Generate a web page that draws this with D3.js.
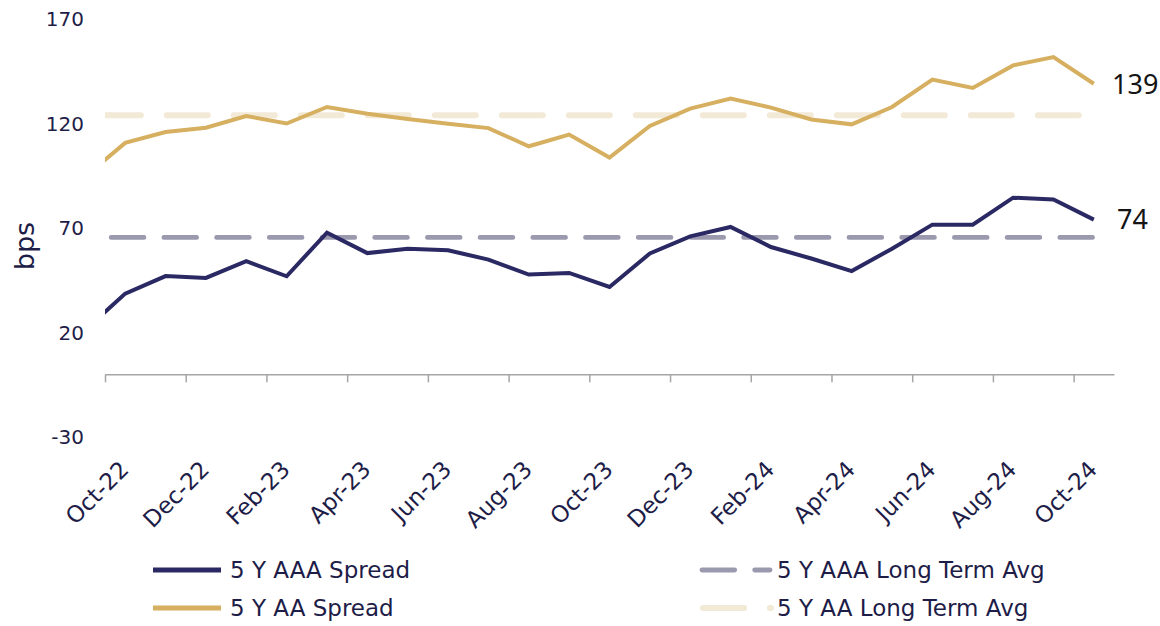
<!DOCTYPE html>
<html>
<head>
<meta charset="utf-8">
<script src="https://cdn.jsdelivr.net/npm/d3@7"></script>
<style>
  body { margin: 0; background: #fff; }
  svg { display: block; font-family: "DejaVu Sans", "Noto Sans", sans-serif; }
</style>
</head>
<body>
<div id="mainChart"></div>
<script>
// Monthly points, Sep-22 .. Oct-24 (Sep-22 sits just left of the plot and gets clipped)
const months = ["Sep-22", "Oct-22", "Nov-22", "Dec-22", "Jan-23", "Feb-23", "Mar-23", "Apr-23", "May-23",
   "Jun-23", "Jul-23", "Aug-23", "Sep-23", "Oct-23", "Nov-23", "Dec-23", "Jan-24", "Feb-24", "Mar-24",
   "Apr-24", "May-24", "Jun-24", "Jul-24", "Aug-24", "Sep-24", "Oct-24"]

const aaaSpread = [21, 38.6, 47, 46.1, 54.1, 46.9, 67.8, 58, 60.1, 59.3, 54.9, 47.7, 48.5, 41.8, 57.8,
   66, 70.5, 60.9, 55.4, 49.4, 60.1, 71.6, 71.6, 84.5, 83.6, 74]
const aaSpread = [94.5, 110.7, 115.9, 118, 123.6, 120, 127.9, 124.7, 122.2, 119.9, 117.8, 109.1, 114.7,
   103.7, 118.8, 127.1, 131.9, 127.6, 121.9, 119.6, 127.9, 141, 137, 147.8, 151.8, 139]

const aaaLongTermAvg = 65.5
const aaLongTermAvg = 124

const xTickLabels = ["Oct-22", "Dec-22", "Feb-23", "Apr-23", "Jun-23", "Aug-23", "Oct-23", "Dec-23",
   "Feb-24", "Apr-24", "Jun-24", "Aug-24", "Oct-24"]
const yTicks = [-30, 20, 70, 120, 170]

const textColor = "#1e1d48"

const charts = [
   { id: "aaaAvg", name: "5 Y AAA Long Term Avg", color: "#9b99ae", width: 4.8, dash: [32.7, 20], offset: 26.3,
     data: months.map(() => aaaLongTermAvg) },
   { id: "aaAvg", name: "5 Y AA Long Term Avg", color: "#f2e9d7", width: 6, dash: [41, 26], offset: 52,
     data: months.map(() => aaLongTermAvg) },
   { id: "aaa", name: "5 Y AAA Spread", color: "#2b2963", width: 4, data: aaaSpread },
   { id: "aa", name: "5 Y AA Spread", color: "#d6b060", width: 4, data: aaSpread }
]

const W = 1160, H = 626
const plot = { left: 105, right: 1114, top: 19, bottom: 437 }

// month index: 0 = start of Oct-22, 25 = start of Nov-24; points sit mid-month
let x = d3.scaleLinear().domain([0, 25]).range([plot.left, plot.right])
let y = d3.scaleLinear().domain([-30, 170]).range([plot.bottom, plot.top])
const px = i => x(i - 0.5)

let svg = d3.select("#mainChart").append("svg")
   .attr("width", W)
   .attr("height", H)

svg.append("defs").append("clipPath").attr("id", "plotClip")
   .append("rect")
   .attr("x", plot.left).attr("y", 0)
   .attr("width", plot.right - plot.left + 20).attr("height", H)

// y tick labels
svg.append("g").selectAll("text").data(yTicks)
   .join("text")
   .attr("x", 84)
   .attr("y", d => y(d))
   .attr("dy", "0.36em")
   .attr("text-anchor", "end")
   .attr("fill", textColor)
   .style("font-size", "20px")
   .text(d => d)

svg.append("text")
   .attr("transform", "translate(34,246) rotate(-90)")
   .attr("text-anchor", "middle")
   .attr("fill", textColor)
   .style("font-size", "27px")
   .text("bps")

// x axis at zero
let xAxis = d3.axisBottom(x)
   .tickValues(d3.range(0, 25, 2))
   .tickSize(8)
   .tickSizeOuter(0)
   .tickFormat("")

let axisG = svg.append("g")
   .attr("transform", "translate(0," + y(0) + ")")
   .call(xAxis)
axisG.select(".domain").attr("stroke", "#a6a6a6").attr("stroke-width", 1.5)
axisG.selectAll(".tick line").attr("stroke", "#a6a6a6").attr("stroke-width", 1.5)

svg.append("g").selectAll("text").data(xTickLabels)
   .join("text")
   .attr("transform", (d, i) => "translate(" + (x(i * 2) + 25) + ",471) rotate(-45)")
   .attr("text-anchor", "end")
   .attr("fill", textColor)
   .style("font-size", "23px")
   .text(d => d)

// lines
let line = d3.line()
   .x((d, i) => px(i))
   .y(d => y(d))

let g = svg.append("g").attr("clip-path", "url(#plotClip)")
charts.forEach(chart => {
   g.append("path")
      .datum(chart.data)
      .attr("id", chart.id)
      .attr("d", line)
      .attr("fill", "none")
      .attr("stroke", chart.color)
      .attr("stroke-width", chart.width)
      .attr("stroke-linecap", chart.dash ? "round" : "butt")
      .attr("stroke-linejoin", "miter")
      .attr("stroke-dasharray", chart.dash ? chart.dash.join(" ") : null)
      .attr("stroke-dashoffset", chart.dash ? chart.offset : null)
})

// end labels
const last = months.length - 1
svg.append("text").attr("x", 1112).attr("y", y(aaSpread[last])).attr("dy", "0.36em")
   .attr("fill", "#141414").style("font-family", "Noto Sans").style("font-size", "27px").text(aaSpread[last])
svg.append("text").attr("x", 1117).attr("y", y(aaaSpread[last])).attr("dy", "0.36em")
   .attr("fill", "#141414").style("font-family", "Noto Sans").style("font-size", "27px").text(aaaSpread[last])

// legend
const legendItems = [
   { chart: charts[2], x: 153, y: 570 },
   { chart: charts[3], x: 153, y: 608 },
   { chart: charts[0], x: 702, y: 570 },
   { chart: charts[1], x: 703, y: 608 }
]
legendItems.forEach(item => {
   let c = item.chart
   svg.append("line")
      .attr("x1", item.x).attr("x2", item.x + 68)
      .attr("y1", item.y).attr("y2", item.y)
      .attr("stroke", c.color)
      .attr("stroke-width", c.dash ? c.width : 5)
      .attr("stroke-linecap", c.dash ? "round" : "butt")
      .attr("stroke-dasharray", c.dash ? c.dash.join(" ") : null)
   svg.append("text")
      .attr("x", c.dash ? 777 : 230)
      .attr("y", item.y)
      .attr("dy", "0.36em")
      .attr("fill", textColor)
      .style("font-size", "23px")
      .text(c.name)
})
</script>
</body>
</html>
